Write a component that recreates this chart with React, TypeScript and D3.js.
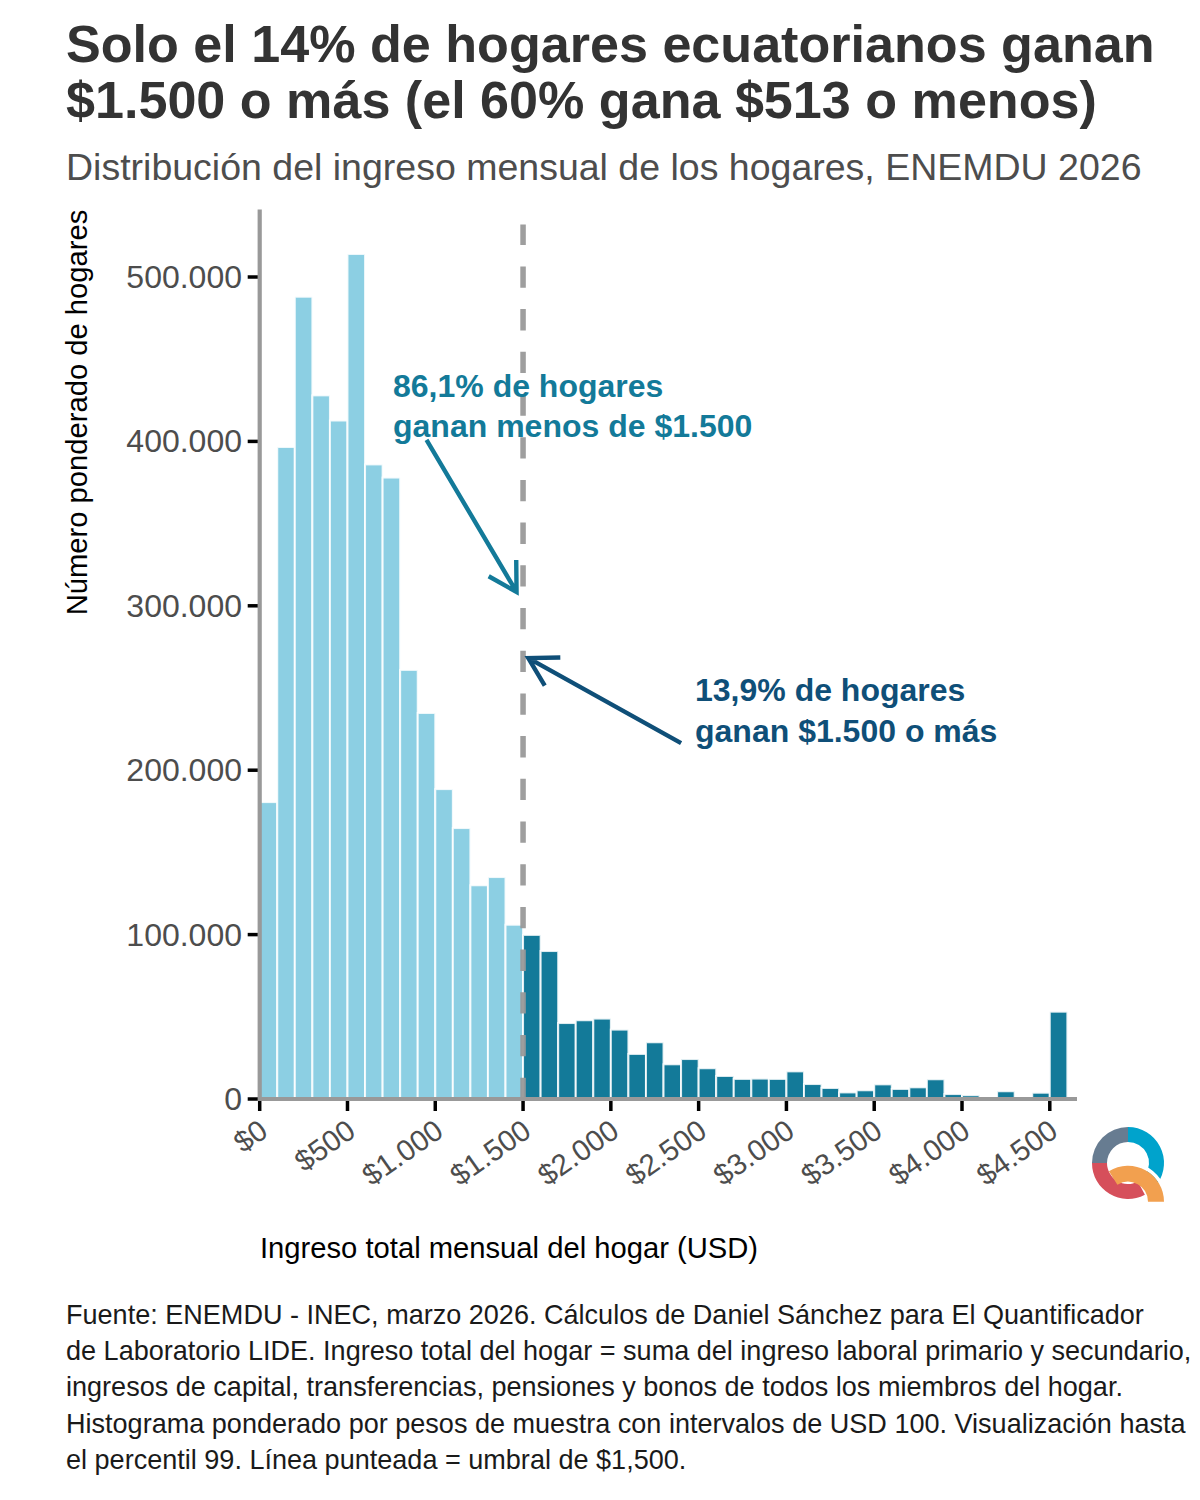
import React from "react";
import * as d3 from "d3";

// histogram counts per USD 100 bin, starting at $0
const binWidth = 100;
const threshold = 1500;
const counts = [
  180600, 396600, 488000, 428000, 412700, 514000, 386000, 378000, 261000, 234800,
  188500, 164800, 130000, 135000, 106000, 99800, 90000, 46200, 47900, 48900,
  42200, 27400, 34500, 21100, 24300, 18700, 14000, 12200, 12400, 12200,
  16800, 9100, 6700, 4000, 5300, 8900, 6100, 7100, 12000, 3000,
  2300, 0, 4700, 0, 3800, 53100,
];
const xTicks = [0, 500, 1000, 1500, 2000, 2500, 3000, 3500, 4000, 4500];
const yTicks = [0, 100000, 200000, 300000, 400000, 500000];
const titleLines = [
  "Solo el 14% de hogares ecuatorianos ganan",
  "$1.500 o más (el 60% gana $513 o menos)",
];
const subtitle = "Distribución del ingreso mensual de los hogares, ENEMDU 2026";
const captionLines = [
  "Fuente: ENEMDU - INEC, marzo 2026. Cálculos de Daniel Sánchez para El Quantificador",
  "de Laboratorio LIDE. Ingreso total del hogar = suma del ingreso laboral primario y secundario,",
  "ingresos de capital, transferencias, pensiones y bonos de todos los miembros del hogar.",
  "Histograma ponderado por pesos de muestra con intervalos de USD 100. Visualización hasta",
  "el percentil 99. Línea punteada = umbral de $1,500.",
];
// annotations in data units
const noteBelow = ["86,1% de hogares", "ganan menos de $1.500"];
const noteAbove = ["13,9% de hogares", "ganan $1.500 o más"];
const arrowBelow = { x1: 950, y1: 401000, x2: 1463, y2: 308400 };
const arrowAbove = { x1: 2400, y1: 216500, x2: 1530, y2: 268200 };

const LIGHT = "#8ccfe3";
const DARK = "#137a99";
const NAVY = "#0f4f78";
const FONT = "'Liberation Sans', Arial, sans-serif";

const x = d3.scaleLinear().domain([0, 4655]).range([259.7, 1077]);
const y = d3.scaleLinear().domain([0, 541000]).range([1099, 209.6]);

const fmt = (v: number) => d3.format(",")(v).replace(/,/g, ".");

function arrowPath(a: { x1: number; y1: number; x2: number; y2: number }) {
  const p = d3.path();
  const [x1, y1, x2, y2] = [x(a.x1), y(a.y1), x(a.x2), y(a.y2)];
  p.moveTo(x1, y1);
  p.lineTo(x2, y2);
  const ang = Math.atan2(y1 - y2, x1 - x2);
  const len = 32;
  const spread = Math.PI / 6;
  p.moveTo(x2 + len * Math.cos(ang - spread), y2 + len * Math.sin(ang - spread));
  p.lineTo(x2, y2);
  p.lineTo(x2 + len * Math.cos(ang + spread), y2 + len * Math.sin(ang + spread));
  return p.toString();
}

const deg = (d: number) => (d * Math.PI) / 180;

function Logo() {
  const ring = d3.arc<any>().innerRadius(21).outerRadius(36);
  const tail = d3.arc<any>().innerRadius(20).outerRadius(36);
  const halo = d3.arc<any>().innerRadius(36).outerRadius(39.5);
  return (
    <g>
      <g transform="translate(1128,1163)">
        <path d={ring({ startAngle: deg(-90), endAngle: 0 })!} fill="#677c91" />
        <path d={ring({ startAngle: 0, endAngle: deg(125) })!} fill="#00a3cc" />
        <path d={ring({ startAngle: deg(152), endAngle: deg(270) })!} fill="#d64f5b" />
      </g>
      <g transform="translate(1128,1201.7)">
        <path d={halo({ startAngle: deg(15), endAngle: deg(80) })!} fill="#fff" />
        <path d={tail({ startAngle: deg(-32), endAngle: deg(90) })!} fill="#f2a04f" />
      </g>
    </g>
  );
}

export default function App() {
  const barW = x(binWidth) - x(0);
  const dashTop = 224.6;
  return (
    <svg
      width={1200}
      height={1500}
      viewBox="0 0 1200 1500"
      style={{ position: "absolute", left: 0, top: 0, background: "#fff" }}
      fontFamily={FONT}
    >
      {titleLines.map((t, i) => (
        <text key={t} x={66} y={62 + i * 56} fontSize={52.1} fontWeight="bold" fill="#333333">
          {t}
        </text>
      ))}
      <text x={66} y={180} fontSize={37.5} fill="#4d4d4d">
        {subtitle}
      </text>

      {counts.map((c, i) => {
        const x0 = i * binWidth;
        return (
          <rect
            key={i}
            x={x(x0)}
            y={y(c)}
            width={barW}
            height={y(0) - y(c)}
            fill={x0 < threshold ? LIGHT : DARK}
            stroke="#fff"
            strokeOpacity={0.85}
            strokeWidth={2}
          />
        );
      })}

      <line
        x1={x(threshold)}
        x2={x(threshold)}
        y1={y(0)}
        y2={dashTop}
        stroke="#999999"
        strokeWidth={5.5}
        strokeDasharray="21.3 21.4"
        opacity={0.95}
      />

      {/* axes */}
      <line x1={x(0)} x2={x(0)} y1={y(541000)} y2={y(0) + 1.5} stroke="#999999" strokeWidth={4.2} />
      <line x1={x(0) - 2} x2={x(4655)} y1={y(0)} y2={y(0)} stroke="#999999" strokeWidth={4.2} />
      {yTicks.map((t) => (
        <g key={t}>
          <line x1={x(0) - 12} x2={x(0) - 2} y1={y(t)} y2={y(t)} stroke="#000" strokeWidth={3.5} />
          <text x={242} y={y(t) + 11} textAnchor="end" fontSize={32} fill="#4d4d4d">
            {fmt(t)}
          </text>
        </g>
      ))}
      {xTicks.map((t) => (
        <g key={t}>
          <line x1={x(t)} x2={x(t)} y1={y(0) + 2} y2={y(0) + 12} stroke="#000" strokeWidth={3.5} />
          <text
            transform={`translate(${x(t) + 10},${y(0) + 36}) rotate(-35)`}
            textAnchor="end"
            fontSize={29.5}
            fill="#4d4d4d"
          >
            ${fmt(t)}
          </text>
        </g>
      ))}
      <text x={260} y={1258} fontSize={29.2} fill="#000">
        Ingreso total mensual del hogar (USD)
      </text>
      <text
        transform="translate(87,412.5) rotate(-90)"
        textAnchor="middle"
        fontSize={29.2}
        fill="#000"
      >
        Número ponderado de hogares
      </text>

      {/* annotations */}
      <path d={arrowPath(arrowBelow)} fill="none" stroke={DARK} strokeWidth={4.4} />
      <path d={arrowPath(arrowAbove)} fill="none" stroke={NAVY} strokeWidth={4.4} />
      {noteBelow.map((t, i) => (
        <text key={t} x={393} y={397 + i * 40} fontSize={32} fontWeight="bold" fill={DARK}>
          {t}
        </text>
      ))}
      {noteAbove.map((t, i) => (
        <text key={t} x={695} y={701 + i * 40.5} fontSize={32} fontWeight="bold" fill={NAVY}>
          {t}
        </text>
      ))}

      <Logo />

      {captionLines.map((t, i) => (
        <text key={t} x={66} y={1324 + i * 36.2} fontSize={27.05} fill="#1a1a1a">
          {t}
        </text>
      ))}
    </svg>
  );
}
